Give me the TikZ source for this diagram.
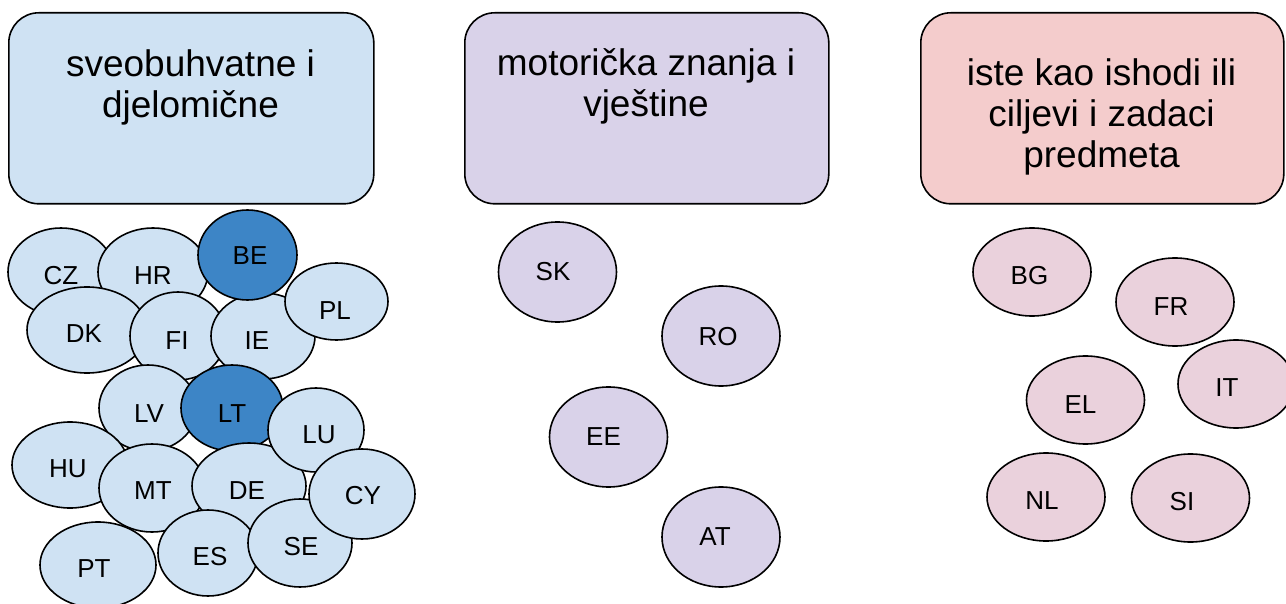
\documentclass[tikz,border=0pt]{standalone}
\usepackage{fontspec}
\setmainfont{Liberation Sans}
\usetikzlibrary{shapes.geometric}
\definecolor{lblue}{HTML}{CFE2F3}
\definecolor{dblue}{HTML}{3D85C6}
\definecolor{lpurple}{HTML}{D9D2E9}
\definecolor{lred}{HTML}{F4CCCC}
\definecolor{lpink}{HTML}{EAD1DC}
\newcommand\ctry[8]{\node[ell,fill=#6,minimum width=#4pt,minimum height=#5pt,label={[lbl,xshift=#7pt,yshift=#8pt]center:#1}] (#1) at (#2,#3) {};}
\begin{document}
\begin{tikzpicture}[x=1pt,y=-1pt,
  box/.style={draw, line width=1.6pt, rounded corners=30pt, anchor=north west, minimum height=191pt, inner sep=0pt},
  btxt/.style={font=\fontsize{37}{41}\selectfont, align=center, inner sep=0pt},
  ell/.style={ellipse, draw, line width=1.6pt, inner sep=0pt},
  lbl/.style={font=\fontsize{26}{26}\selectfont, inner sep=0pt, text=black}]
\useasboundingbox (0,0) rectangle (1286,604);
\begin{scope}
\clip (0,0) rectangle (1286,604);
% boxes
\node[box, fill=lblue, minimum width=365pt] (b1) at (8,12) {};
\node[box, fill=lpurple, minimum width=364pt] (b2) at (464,12) {};
\node[box, fill=lred, minimum width=363pt] (b3) at (920,12) {};
\node[btxt, anchor=base] (t1) at (190.5,118) {sveobuhvatne i\\djelomične};
\node[btxt, anchor=base] (t2) at (646,117) {motorička znanja i\\vještine};
\node[btxt, anchor=base] (t3) at (1101.5,168) {iste kao ishodi ili\\ciljevi i zadaci\\predmeta};
% left cluster
\ctry{CZ}{61}{272}{106}{88}{lblue}{0}{-4}
\ctry{HR}{153}{272}{110}{88}{lblue}{0}{-4}
\ctry{DK}{87}{330}{120}{86}{lblue}{-3}{-4}
\ctry{FI}{178}{336}{96}{88}{lblue}{-1}{-5}
\ctry{IE}{263}{336}{104}{86}{lblue}{-6}{-5}
\ctry{BE}{247.5}{255}{99}{90}{dblue}{2.5}{-1}
\ctry{PL}{336.5}{301.5}{103}{77}{lblue}{-1.5}{-9.5}
\ctry{LV}{148}{408}{98}{86}{lblue}{1}{-6}
\ctry{LT}{232}{408}{102}{86}{dblue}{0}{-6}
\ctry{HU}{70}{465}{116}{86}{lblue}{-2}{-4}
\ctry{MT}{152}{488}{106}{88}{lblue}{1}{-3}
\ctry{DE}{249}{486}{114}{86}{lblue}{-2}{-5}
\ctry{LU}{316}{430}{96}{84}{lblue}{3}{-5}
\ctry{ES}{208}{553}{100}{86}{lblue}{2}{-4}
\ctry{SE}{300}{543}{104}{88}{lblue}{1}{-4}
\ctry{CY}{362}{494}{106}{90}{lblue}{1}{-2}
\ctry{PT}{98}{565}{116}{86}{lblue}{-4}{-4}
% middle
\ctry{SK}{557.5}{272}{118}{100}{lpurple}{-4.5}{0}
\ctry{RO}{721}{336}{118}{100}{lpurple}{-3}{-1}
\ctry{EE}{608.5}{437}{118}{100}{lpurple}{-5}{0}
\ctry{AT}{721}{537}{118}{100}{lpurple}{-6}{0}
% right
\ctry{BG}{1032}{272}{118}{88}{lpink}{-2.5}{-4}
\ctry{FR}{1175}{302}{118}{88}{lpink}{-4}{-5}
\ctry{IT}{1236}{384}{116}{88}{lpink}{-9}{-4}
\ctry{EL}{1085.5}{400}{118}{88}{lpink}{-5}{-5}
\ctry{NL}{1046}{497}{118}{88}{lpink}{-4}{-4}
\ctry{SI}{1190.5}{498}{118}{88}{lpink}{-8.5}{-4}
\end{scope}
\end{tikzpicture}
\end{document}
